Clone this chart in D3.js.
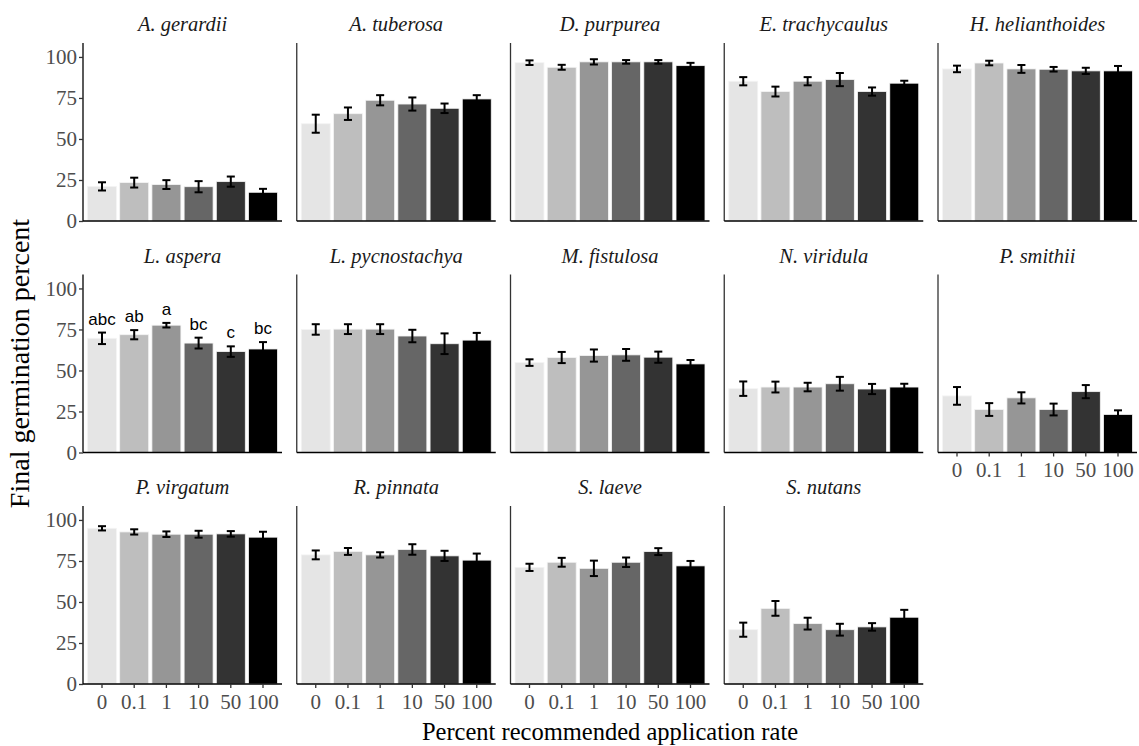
<!DOCTYPE html>
<html>
<head>
<meta charset="utf-8">
<script src="https://cdn.jsdelivr.net/npm/d3@7"></script>
<style>
  body { margin: 0; background: #fff; }
  svg { display: block; }
</style>
</head>
<body>
<div class="chart"></div>
<script>
// data
var rates = ["0", "0.1", "1", "10", "50", "100"];
var species = ["A. gerardii", "A. tuberosa", "D. purpurea", "E. trachycaulus", "H. helianthoides",
               "L. aspera", "L. pycnostachya", "M. fistulosa", "N. viridula", "P. smithii",
               "P. virgatum", "R. pinnata", "S. laeve", "S. nutans"];
var means = [
  [21.1, 23.4, 22.2, 20.9, 24.0, 17.5],
  [59.3, 65.4, 73.6, 71.3, 68.7, 74.4],
  [96.5, 93.7, 97.0, 97.0, 97.0, 94.7],
  [85.2, 78.9, 85.2, 86.2, 78.9, 84.0],
  [92.7, 96.3, 92.7, 92.5, 91.5, 91.5],
  [69.6, 71.8, 77.6, 66.7, 61.5, 63.1],
  [75.0, 75.2, 75.2, 71.0, 66.3, 68.5],
  [54.8, 57.9, 59.1, 59.5, 58.1, 54.0],
  [38.9, 39.9, 39.9, 41.9, 38.7, 39.9],
  [34.5, 26.2, 33.3, 26.2, 37.1, 23.2],
  [94.9, 92.7, 91.3, 91.3, 91.5, 89.5],
  [78.7, 80.8, 78.7, 82.0, 78.1, 75.5],
  [71.1, 74.2, 70.5, 74.2, 80.7, 72.0],
  [33.1, 46.1, 36.8, 33.1, 34.8, 40.7]
];
var ses = [
  [2.5, 3.0, 2.7, 3.4, 3.1, 2.1],
  [5.5, 3.8, 3.1, 4.0, 2.9, 2.3],
  [1.4, 1.5, 1.6, 1.1, 1.1, 1.7],
  [2.5, 3.0, 2.5, 4.0, 2.5, 1.5],
  [2.0, 1.4, 2.4, 1.4, 1.9, 3.0],
  [3.5, 2.8, 1.4, 3.3, 3.2, 4.2],
  [3.2, 3.0, 3.0, 3.8, 6.3, 4.4],
  [2.0, 3.4, 3.7, 3.6, 3.4, 2.4],
  [4.4, 3.3, 2.6, 4.2, 3.1, 2.0],
  [5.4, 3.9, 3.4, 3.6, 4.0, 2.5],
  [1.3, 1.6, 1.7, 2.1, 1.7, 3.3],
  [2.7, 2.1, 1.6, 3.2, 3.1, 4.0],
  [2.2, 2.7, 4.7, 2.9, 2.1, 3.0],
  [4.3, 4.5, 3.6, 3.6, 2.3, 4.5]
];
// significance letters (only L. aspera)
var letterSpecies = "L. aspera";
var letters = ["abc", "ab", "a", "bc", "c", "bc"];
var yTicks = [0, 25, 50, 75, 100];
var greys = ["#e5e5e5", "#bebebe", "#969696", "#666666", "#333333", "#000000"];

var W = 1139, H = 746;
var ncol = 5;
var left0 = 83, colStep = 213.75, pw = 199;
var top0 = 43, rowStep = 231.5, ph = 178;
var serif = "'Liberation Serif', 'Times New Roman', serif";

var svg = d3.select("div.chart")
            .append("svg")
            .attr("width", W)
            .attr("height", H);

var x = d3.scaleBand()
          .domain(rates)
          .range([0, pw])
          .paddingInner(0.1)
          .paddingOuter(0.14);

var y = d3.scaleLinear()
          .domain([0, 108.5])
          .range([ph, 0]);

var fill = d3.scaleOrdinal().domain(rates).range(greys);

species.forEach(function(sp, i){
  var col = i % ncol, row = Math.floor(i / ncol);
  var data = rates.map(function(r, j){
    return {rate: r, mean: means[i][j], se: ses[i][j]};
  });
  // bottom of a column: no panel below it
  var showX = (i + ncol) >= species.length;

  var g = svg.append("g")
             .attr("transform", "translate(" + (left0 + col * colStep) + "," + (top0 + row * rowStep) + ")");

  g.append("text")
     .attr("x", pw / 2)
     .attr("y", -12)
     .attr("text-anchor", "middle")
     .style("font-family", serif)
     .style("font-style", "italic")
     .style("font-size", "20.5px")
     .attr("fill", "#1a1a1a")
     .text(sp);

  g.selectAll(".bar")
     .data(data)
     .enter()
     .append("rect")
       .attr("x", function(d){ return x(d.rate); })
       .attr("width", x.bandwidth())
       .attr("y", function(d){ return y(d.mean); })
       .attr("height", function(d){ return y(0) - y(d.mean); })
       .attr("fill", function(d){ return fill(d.rate); })
       .attr("stroke", "#f4f4f4")
       .attr("stroke-width", 0.8);

  var cap = x.step() * 0.25;
  var eb = g.selectAll(".err")
     .data(data)
     .enter()
     .append("g")
       .attr("transform", function(d){ return "translate(" + (x(d.rate) + x.bandwidth() / 2) + ",0)"; })
       .attr("stroke", "#000")
       .attr("stroke-width", 2);
  eb.append("line")
     .attr("y1", function(d){ return y(d.mean + d.se); })
     .attr("y2", function(d){ return y(d.mean - d.se); });
  eb.append("line")
     .attr("x1", -cap / 2).attr("x2", cap / 2)
     .attr("y1", function(d){ return y(d.mean + d.se); })
     .attr("y2", function(d){ return y(d.mean + d.se); });
  eb.append("line")
     .attr("x1", -cap / 2).attr("x2", cap / 2)
     .attr("y1", function(d){ return y(d.mean - d.se); })
     .attr("y2", function(d){ return y(d.mean - d.se); });

  if (sp === letterSpecies) {
    g.selectAll(".letter")
       .data(data)
       .enter()
       .append("text")
         .attr("x", function(d){ return x(d.rate) + x.bandwidth() / 2; })
         .attr("y", function(d){ return y(d.mean + d.se) - 8; })
         .attr("text-anchor", "middle")
         .style("font-family", "'Liberation Sans', Arial, sans-serif")
         .style("font-size", "17px")
         .attr("fill", "#000")
         .text(function(d, j){ return letters[j]; });
  }

  // y axis
  var yAxis = d3.axisLeft(y).tickValues(col === 0 ? yTicks : []).tickSize(4).tickPadding(2);
  var ya = g.append("g").call(yAxis);
  ya.select(".domain").attr("stroke", col === 0 ? "#000" : "#333").attr("stroke-width", 1.3).attr("d", "M0," + ph + "V0");
  ya.selectAll(".tick line").attr("stroke", "#333").attr("stroke-width", 1.3);
  ya.selectAll(".tick text")
     .style("font-family", serif)
     .style("font-size", "21px")
     .attr("fill", "#4d4d4d");

  // x axis
  var xAxis = d3.axisBottom(x).tickSize(showX ? 4 : 0).tickPadding(6);
  var xa = g.append("g").attr("transform", "translate(0," + ph + ")").call(xAxis);
  xa.select(".domain").attr("stroke", "#000").attr("stroke-width", 1.5).attr("d", "M0,0H" + pw);
  xa.selectAll(".tick line").attr("stroke", "#333").attr("stroke-width", 1.3);
  xa.selectAll(".tick text")
     .style("font-family", serif)
     .style("font-size", "21px")
     .attr("fill", "#4d4d4d")
     .style("display", showX ? null : "none");
});

svg.append("text")
   .attr("transform", "translate(29," + (top0 + (2 * rowStep + ph) / 2) + ") rotate(-90)")
   .attr("text-anchor", "middle")
   .style("font-family", serif)
   .style("font-size", "28px")
   .attr("fill", "#000")
   .text("Final germination percent");

svg.append("text")
   .attr("x", left0 + (4 * colStep + pw) / 2)
   .attr("y", 740)
   .attr("text-anchor", "middle")
   .style("font-family", serif)
   .style("font-size", "24.5px")
   .attr("fill", "#000")
   .text("Percent recommended application rate");
</script>
</body>
</html>
